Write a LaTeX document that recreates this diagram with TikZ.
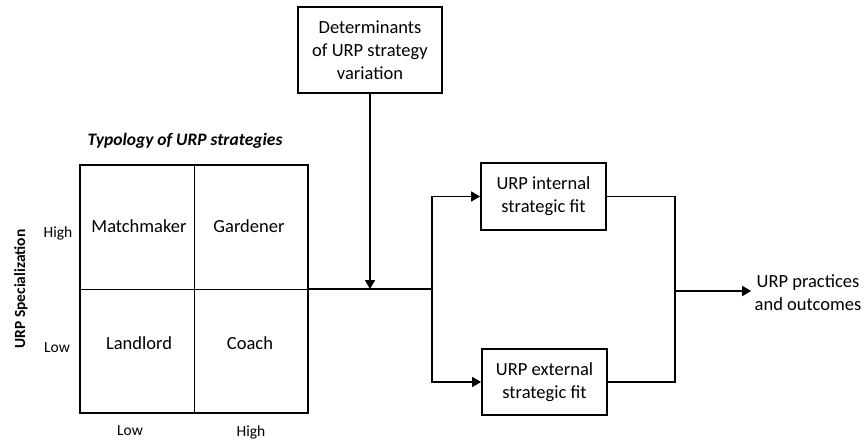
\documentclass[tikz,border=0pt]{standalone}
\usepackage{fontspec}
\setmainfont{Carlito}
\usetikzlibrary{arrows.meta,positioning}
\begin{document}
\begin{tikzpicture}[x=1pt,y=-1pt,
  box/.style={draw,line width=1.8pt,align=center,inner sep=0pt,font=\fontsize{18.5}{23}\selectfont},
  conn/.style={line width=1.6pt},
  arr/.style={conn,-{Triangle[length=9pt,width=10pt]}},
  cell/.style={font=\fontsize{18.5}{22}\selectfont},
  axis/.style={font=\fontsize{15.5}{18}\selectfont}]
\useasboundingbox (0,0) rectangle (865,440);
% matrix
\node[draw,line width=1.8pt,minimum width=228pt,minimum height=248pt,inner sep=0pt] (mat) at (194,289) {};
\draw[line width=0.9pt] (mat.north) -- (mat.south);
\draw[line width=0.9pt] (mat.west) -- (mat.east);
\node[cell] (mm) at (139,226) {Matchmaker};
\node[cell] (gd) at (249,226) {Gardener};
\node[cell] (ll) at (139,343) {Landlord};
\node[cell] (co) at (250,343) {Coach};
\node[font=\fontsize{17.5}{20}\bfseries\itshape\selectfont] (title) at (185,141) {Typology of URP strategies};
\node[axis] (yh) at (58,233) {High};
\node[axis] (yl) at (57,348) {Low};
\node[axis] (xl) at (130,431) {Low};
\node[axis] (xh) at (251,432) {High};
\node[font=\fontsize{15.5}{18}\bfseries\selectfont,rotate=90] (ylab) at (21,289) {URP Specialization};
% boxes
\node[box,minimum width=144pt,minimum height=86pt] (det) at (370,50) {Determinants\\of URP strategy\\variation};
\node[box,minimum width=125pt,minimum height=67pt] (int) at (543.5,196.5) {URP internal\\strategic fit};
\node[box,minimum width=125pt,minimum height=66pt] (ext) at (544.5,382) {URP external\\strategic fit};
\node[align=center,font=\fontsize{18.5}{23}\selectfont] (out) at (808,293) {URP practices\\and outcomes};
% connectors
\coordinate (split) at (432,289);
\coordinate (join) at (675,291);
\draw[conn] (mat.east) -- (split);
\draw[arr] (det.south) -- (det.south |- mat.east);
\draw[arr] (split) |- (int.west);
\draw[arr] (split) |- (ext.west);
\draw[conn] (int.east) -| (join) |- (ext.east);
\draw[arr] (join) -- (join -| out.west);
\end{tikzpicture}
\end{document}
